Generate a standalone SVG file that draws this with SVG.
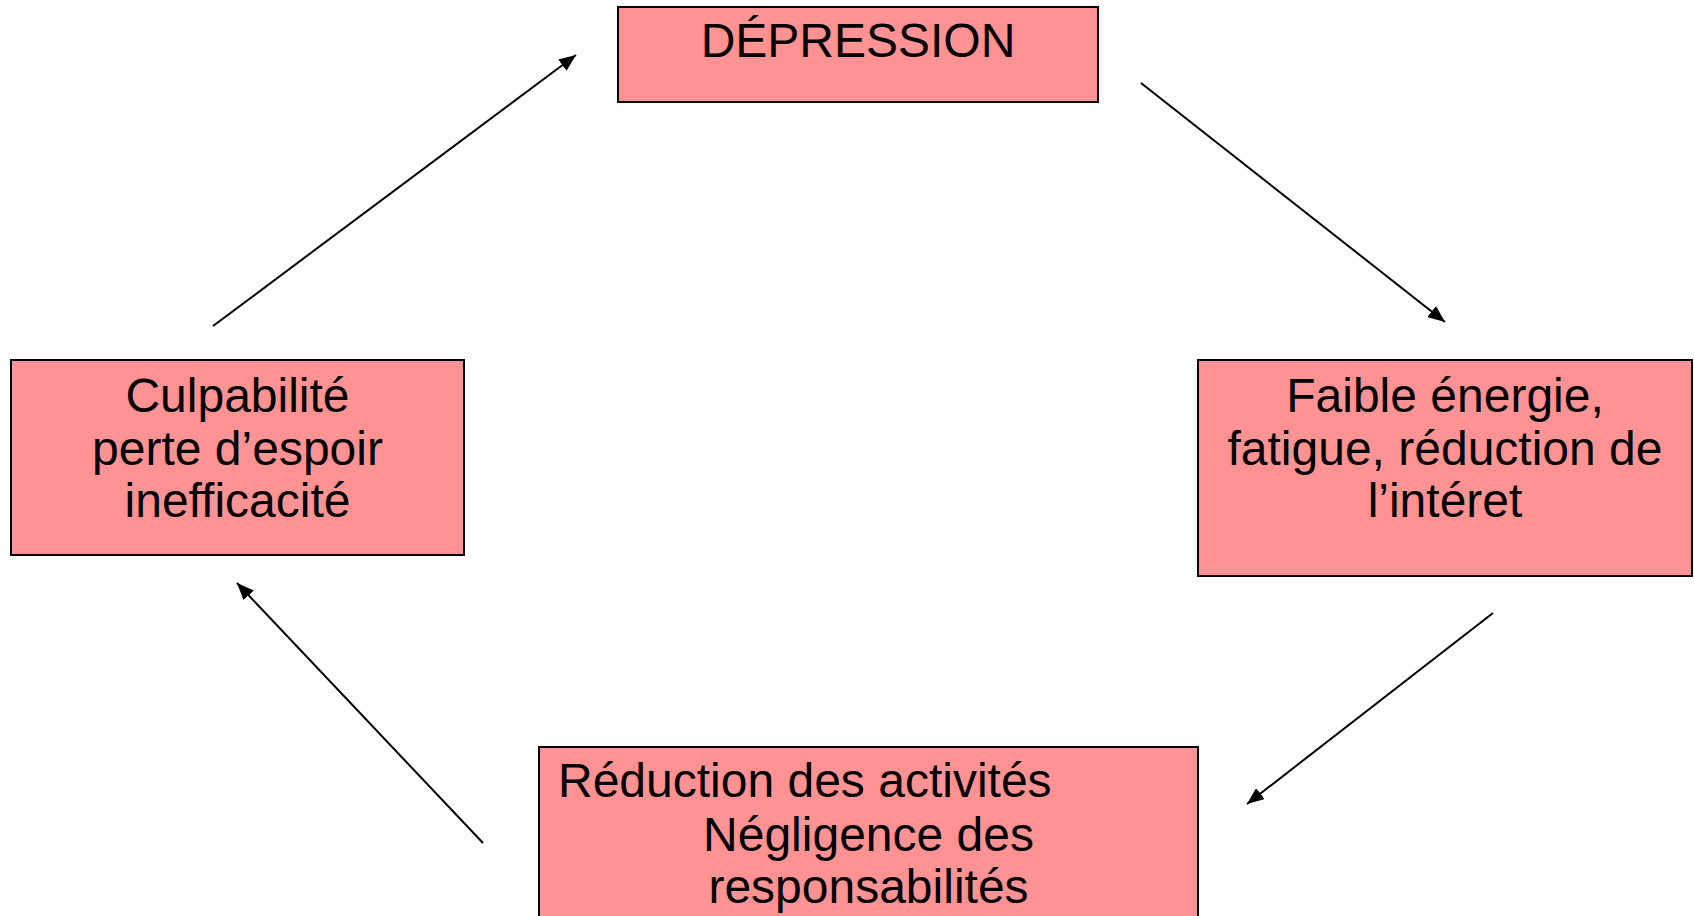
<svg xmlns="http://www.w3.org/2000/svg" width="1694" height="916" viewBox="0 0 1694 916">
<style>
.box{fill:#FF9393;stroke:#000;stroke-width:2}
.t{font-family:"Liberation Sans",Arial,sans-serif;font-size:48px;fill:#000}
.c{text-anchor:middle}
.conn{stroke:#000;stroke-width:2;fill:none;marker-end:url(#ah)}
</style>
<defs>
<marker id="ah" markerUnits="userSpaceOnUse" markerWidth="18" markerHeight="14" refX="17" refY="7" orient="auto">
<path d="M0,0 L17,7 L0,14 Z" fill="#000"/>
</marker>
</defs>
<rect width="1694" height="916" fill="#fff"/>
<g id="connectors">
<line class="conn" x1="213" y1="326" x2="576" y2="55"/>
<line class="conn" x1="1141" y1="83" x2="1445" y2="322"/>
<line class="conn" x1="1493" y1="613" x2="1247" y2="804"/>
<line class="conn" x1="483" y1="843" x2="237" y2="583"/>
</g>
<g id="node-depression">
<rect class="box" x="618" y="7" width="480" height="95"/>
<text class="t c" x="858" y="57">DÉPRESSION</text>
</g>
<g id="node-culpabilite">
<rect class="box" x="11" y="360" width="453" height="195"/>
<text class="t c" x="237.5" y="412">Culpabilité</text>
<text class="t c" x="237.5" y="465">perte d’espoir</text>
<text class="t c" x="237.5" y="517">inefficacité</text>
</g>
<g id="node-faible">
<rect class="box" x="1198" y="360" width="494" height="216"/>
<text class="t c" x="1445" y="412">Faible énergie,</text>
<text class="t c" x="1445" y="465">fatigue, réduction de</text>
<text class="t c" x="1445" y="517">l’intéret</text>
</g>
<g id="node-reduction">
<rect class="box" x="539" y="747" width="659" height="190"/>
<text class="t" x="558" y="797">Réduction des activités</text>
<text class="t c" x="868.5" y="851">Négligence des</text>
<text class="t c" x="868.5" y="903">responsabilités</text>
</g>
</svg>
